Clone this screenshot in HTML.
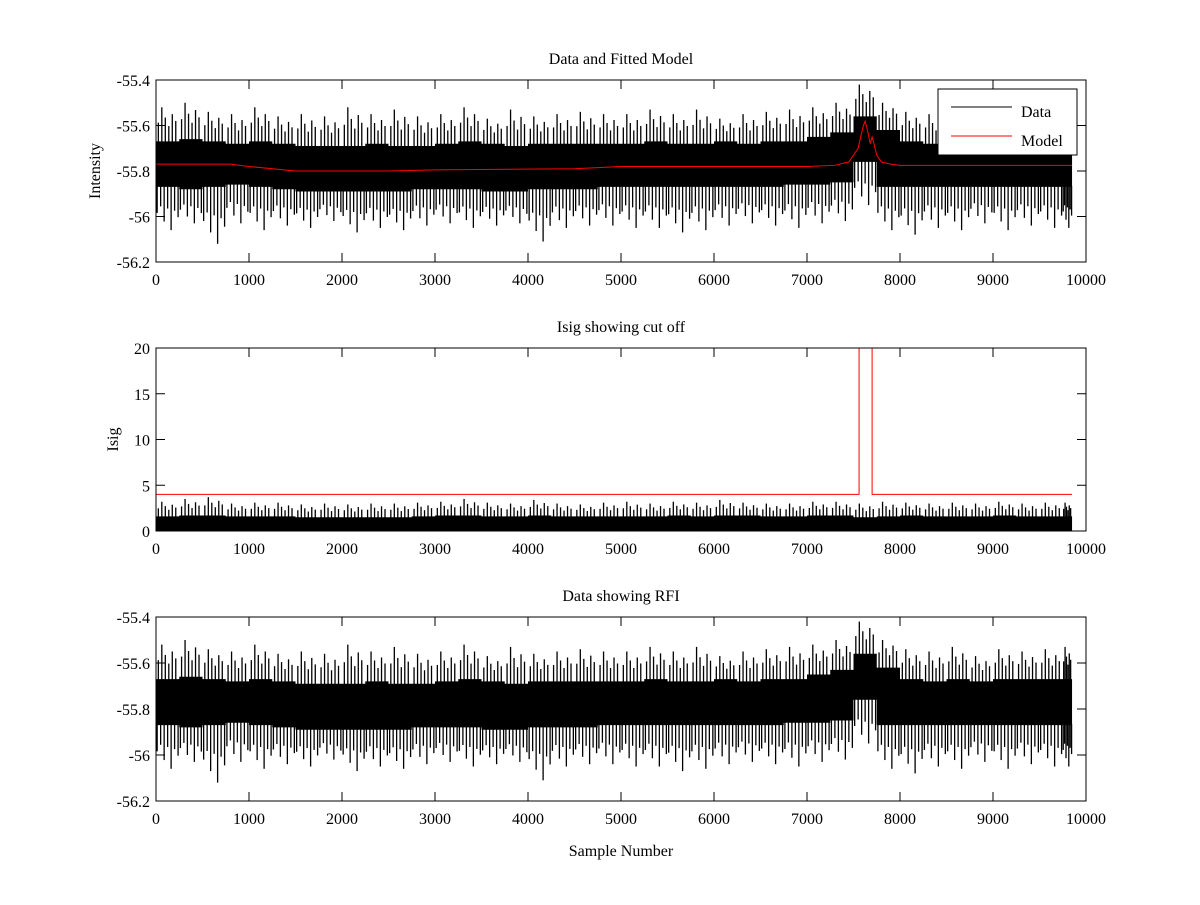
<!DOCTYPE html>
<html><head><meta charset="utf-8">
<style>
html,body{margin:0;padding:0;background:#fff;}
svg text{font-family:"Liberation Serif",serif;font-size:16px;fill:#000;}
</style></head>
<body>
<svg id="fig" width="1200" height="900" viewBox="0 0 1200 900" xmlns="http://www.w3.org/2000/svg"></svg>
<script>
// ---- data (binned, 250 samples per bin) ----
const binStarts = [0,250,500,750,1000,1250,1500,1750,2000,2250,2500,2750,3000,3250,3500,3750,4000,4250,4500,4750,5000,5250,5500,5750,6000,6250,6500,6750,7000,7250,7500,7750,8000,8250,8500,8750,9000,9250,9500,9750];
const coreHi = [-55.67,-55.66,-55.67,-55.68,-55.67,-55.68,-55.69,-55.69,-55.69,-55.68,-55.69,-55.69,-55.68,-55.67,-55.68,-55.69,-55.68,-55.68,-55.68,-55.68,-55.68,-55.67,-55.68,-55.68,-55.67,-55.68,-55.67,-55.67,-55.65,-55.63,-55.56,-55.62,-55.67,-55.68,-55.67,-55.68,-55.67,-55.67,-55.67,-55.67];
const coreLo = [-55.87,-55.88,-55.87,-55.86,-55.87,-55.88,-55.89,-55.89,-55.89,-55.89,-55.89,-55.88,-55.88,-55.88,-55.89,-55.89,-55.88,-55.88,-55.88,-55.87,-55.87,-55.87,-55.87,-55.87,-55.87,-55.87,-55.87,-55.86,-55.86,-55.85,-55.76,-55.87,-55.87,-55.87,-55.87,-55.87,-55.87,-55.87,-55.87,-55.87];
const spikeHi = [-55.52,-55.5,-55.54,-55.55,-55.52,-55.56,-55.55,-55.56,-55.52,-55.55,-55.53,-55.56,-55.55,-55.52,-55.57,-55.53,-55.56,-55.55,-55.54,-55.55,-55.55,-55.53,-55.55,-55.53,-55.57,-55.55,-55.54,-55.53,-55.52,-55.5,-55.42,-55.5,-55.54,-55.55,-55.53,-55.57,-55.54,-55.55,-55.54,-55.53];
const spikeLo = [-56.06,-56.03,-56.12,-56.03,-56.06,-56.04,-56.05,-56.02,-56.07,-56.05,-56.06,-56.04,-56.03,-56.05,-56.04,-56.03,-56.11,-56.05,-56.04,-56.04,-56.05,-56.05,-56.07,-56.06,-56.04,-56.03,-56.04,-56.05,-56.03,-56.02,-55.95,-56.06,-56.08,-56.05,-56.06,-56.03,-56.06,-56.04,-56.05,-56.05];
const isigCore = [1.6,1.7,1.7,1.6,1.6,1.6,1.5,1.5,1.5,1.5,1.5,1.6,1.7,1.7,1.6,1.6,1.7,1.6,1.6,1.6,1.6,1.6,1.7,1.6,1.7,1.7,1.6,1.6,1.7,1.7,1.5,1.6,1.7,1.6,1.6,1.6,1.7,1.6,1.6,1.6];
const isigSpike = [3.2,3.5,3.7,3.0,3.1,3.1,2.9,3.0,2.9,3.0,3.0,3.1,3.2,3.5,3.1,3.0,3.4,3.0,2.9,3.1,3.2,3.0,3.2,3.1,3.4,3.1,3.0,3.0,3.2,3.2,3.0,3.2,3.1,3.0,3.1,3.0,3.2,3.0,3.1,3.1];
const modelX = [0,800,1000,1500,2000,2500,3000,4500,5000,6000,7000,7300,7450,7550,7600,7625,7650,7680,7700,7720,7750,7800,7900,8000,9850];
const modelY = [-55.77,-55.77,-55.78,-55.8,-55.8,-55.8,-55.795,-55.79,-55.78,-55.78,-55.78,-55.775,-55.76,-55.7,-55.61,-55.58,-55.62,-55.68,-55.65,-55.68,-55.73,-55.76,-55.77,-55.775,-55.775];
const cutX = [0,7560,7560,7700,7700,9850];
const cutY = [4,4,20,20,4,4];
const xTicks = [0,1000,2000,3000,4000,5000,6000,7000,8000,9000,10000];
const yTicksI = [-55.4,-55.6,-55.8,-56,-56.2];
const yTicksS = [0,5,10,15,20];
const binW = 250, dataEnd = 9850;

const NS="http://www.w3.org/2000/svg";
const svg=document.getElementById('fig');
function el(tag,attrs,parent){const e=document.createElementNS(NS,tag);for(const k in attrs)e.setAttribute(k,attrs[k]);(parent||svg).appendChild(e);return e;}
const X0=156,X1=1086;
const xs=v=>X0+(v/10000)*(X1-X0);
const upPos=[0.1,0.25,0.4,0.55,0.7,0.85], upFrac=[0.55,1,0.7,0.45,0.8,0.6];
const dnPos=[0.05,0.2,0.35,0.5,0.65,0.8,0.95], dnFrac=[0.6,0.45,0.8,0.5,1,0.55,0.7];

function panel(name,top,bot,ymin,ymax,yTicks,title,ylabel,xlabel){
  const g=el('g',{});
  
  
  const ys=v=>bot-(v-ymin)/(ymax-ymin)*(bot-top);
  return {g,ys,top,bot,yTicks,title,ylabel,xlabel};
}
function axes(p){
  const {g,ys,top,bot}=p;
  const box=el('rect',{x:X0,y:top,width:X1-X0,height:bot-top,fill:'none',stroke:'#000','stroke-width':1},g);
  
  xTicks.forEach(t=>{const x=xs(t);
    el('line',{x1:x,x2:x,y1:bot,y2:bot-9,stroke:'#000'},g);el('line',{x1:x,x2:x,y1:top,y2:top+9,stroke:'#000'},g);
    const tx=el('text',{x:x,y:bot+23,'text-anchor':'middle'},g);tx.textContent=t;
    });
  p.yTicks.forEach(t=>{const y=ys(t);
    el('line',{x1:X0,x2:X0+9,y1:y,y2:y,stroke:'#000'},g);el('line',{x1:X1,x2:X1-9,y1:y,y2:y,stroke:'#000'},g);
    const tx=el('text',{x:X0-6,y:y+6,'text-anchor':'end'},g);tx.textContent=t;
    });
  const tt=el('text',{x:(X0+X1)/2,y:top-16,'text-anchor':'middle'},g);tt.textContent=p.title;
  
  if(p.ylabel){const yl=el('text',{x:0,y:0,'text-anchor':'middle',transform:`translate(${p.yl},${(top+bot)/2}) rotate(-90)`},g);yl.textContent=p.ylabel;
    }
  if(p.xlabel){const xl=el('text',{x:(X0+X1)/2,y:bot+55,'text-anchor':'middle'},g);xl.textContent=p.xlabel;
    }
}
function drawNoise(p,hi,lo,sHi,sLo,name){
  const {g,ys}=p;
  const gg=el('g',{},g);
  let pts=[];
  binStarts.forEach((b,i)=>{const e=Math.min(b+binW,dataEnd);pts.push(xs(b)+','+ys(hi[i]));pts.push(xs(e)+','+ys(hi[i]));});
  for(let i=binStarts.length-1;i>=0;i--){const b=binStarts[i],e=Math.min(b+binW,dataEnd);pts.push(xs(e)+','+ys(lo[i]));pts.push(xs(b)+','+ys(lo[i]));}
  el('polygon',{points:pts.join(' '),fill:'#000'},gg);
  binStarts.forEach((b,i)=>{
    const e=Math.min(b+binW,dataEnd);
    upPos.forEach((f,k)=>{const x=xs(b+(e-b)*f);
      el('line',{x1:x,x2:x,y1:ys(hi[i]+(sHi[i]-hi[i])*upFrac[k]),y2:ys(hi[i])+1,stroke:'#000','stroke-width':1.3},gg);});
    if(sLo) dnPos.forEach((f,k)=>{const x=xs(b+(e-b)*f);
      el('line',{x1:x,x2:x,y1:ys(lo[i]+(sLo[i]-lo[i])*dnFrac[k]),y2:ys(lo[i])-1,stroke:'#000','stroke-width':1.3},gg);});
  });
}
function polyline(p,xsArr,ysArr,color,name){
  const pl=el('polyline',{points:xsArr.map((x,i)=>xs(x)+','+p.ys(ysArr[i])).join(' '),fill:'none',stroke:color,'stroke-width':1},p.g);
  
}

// Panel 1
const p1=panel('data-model-panel',80,262,-56.2,-55.4,yTicksI,'Data and Fitted Model','Intensity');p1.yl=100;
drawNoise(p1,coreHi,coreLo,spikeHi,spikeLo,'data-series');
polyline(p1,modelX,modelY,'#f00','model-line');
axes(p1);
// legend
const lg=el('g',{});
el('rect',{x:938,y:89,width:139,height:66,fill:'#fff',stroke:'#000'},lg);
el('line',{x1:951,x2:1012,y1:107,y2:107,stroke:'#000'},lg);
el('line',{x1:951,x2:1012,y1:136,y2:136,stroke:'#f00'},lg);
const l1=el('text',{x:1021,y:117},lg);l1.textContent='Data';
const l2=el('text',{x:1021,y:146},lg);l2.textContent='Model';

// Panel 2
const p2=panel('isig-panel',348,531,0,20,yTicksS,'Isig showing cut off','Isig');p2.yl=118;
drawNoise(p2,isigCore,isigCore.map(()=>0),isigSpike,null,'isig-series');
polyline(p2,cutX,cutY,'#f00','cutoff-line');
axes(p2);

// Panel 3
const p3=panel('rfi-panel',617,801,-56.2,-55.4,yTicksI,'Data showing RFI',null,'Sample Number');
drawNoise(p3,coreHi,coreLo,spikeHi,spikeLo,'rfi-data-series');
axes(p3);
</script>
</body></html>
